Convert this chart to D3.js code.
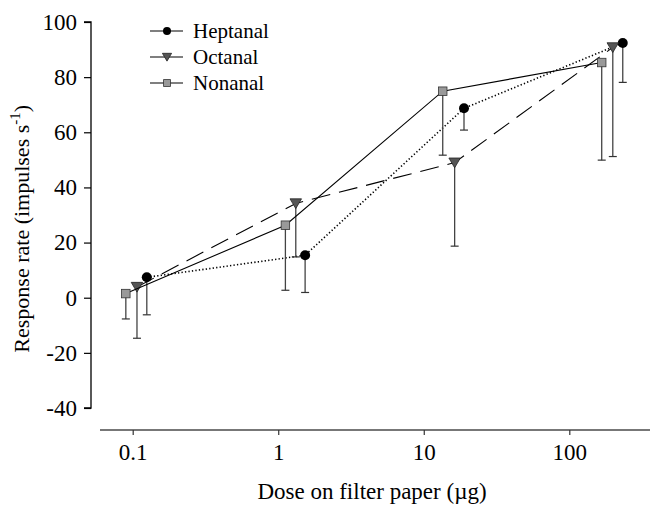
<!DOCTYPE html>
<html lang="en">
<head>
<meta charset="UTF-8">
<title>Response rate vs dose</title>
<script src="https://d3js.org/d3.v7.min.js"></script>
<style>
  body { margin: 0; background: #fff; }
</style>
</head>
<body>
<div id="chart"></div>
<script>
// tick labels
const xTicks = [0.1, 1, 10, 100];
const xTickLabels = ["0.1", "1", "10", "100"];
const yTicks = [-40, -20, 0, 20, 40, 60, 80, 100];

// plotted doses (points are slightly offset from the nominal doses in the figure)
const heptanalDose = [0.125, 1.53, 18.9, 233];
const octanalDose  = [0.107, 1.32, 16.3, 199];
const nonanalDose  = [0.0897, 1.12, 13.5, 167];

// mean response (impulses/s)
const heptanalMean = [7.4, 15.4, 68.7, 92.4];
const octanalMean  = [3.9, 34.2, 49.0, 90.8];
const nonanalMean  = [1.5, 26.3, 74.9, 85.3];

// lower end of error bar
const heptanalLow = [-6.2, 1.9, 60.8, 78.1];
const octanalLow  = [-14.7, 14.8, 18.7, 51.2];
const nonanalLow  = [-7.7, 2.7, 51.7, 49.9];

const series = [
  { name: "Heptanal", dose: heptanalDose, mean: heptanalMean, low: heptanalLow, dash: "1.3,2.2", width: 1.6, marker: "circle" },
  { name: "Octanal",  dose: octanalDose,  mean: octanalMean,  low: octanalLow,  dash: "19,9",    width: 1.1, marker: "triangle" },
  { name: "Nonanal",  dose: nonanalDose,  mean: nonanalMean,  low: nonanalLow,  dash: null,      width: 1.1, marker: "square" }
];

const width = 650, height = 506;
const serif = "'Liberation Serif', 'Times New Roman', serif";

const x = d3.scaleLog().domain([0.1, 100]).range([132.7, 569.3]);
const y = d3.scaleLinear().domain([-40, 100]).range([408, 22]);

const svg = d3.select("#chart").append("svg")
  .attr("width", width).attr("height", height)
  .style("font-family", serif);

// y axis
const yAxis = svg.append("g")
  .attr("transform", "translate(91,0)")
  .call(d3.axisLeft(y).tickValues(yTicks).tickSize(7).tickPadding(7).tickFormat(d => String(d)));
yAxis.select(".domain").attr("stroke", "#000").attr("stroke-width", 1.3).attr("d", `M-7,${y(100)}H0V${y(-40)}H-7`);
yAxis.selectAll(".tick line").attr("stroke", "#000").attr("stroke-width", 1.2);
yAxis.selectAll(".tick text").style("font-family", serif).style("font-size", "23px");

// x axis
const xAxis = svg.append("g")
  .attr("transform", "translate(0,430)")
  .call(d3.axisBottom(x).tickValues(xTicks).tickSize(5).tickPadding(9).tickFormat((d, i) => xTickLabels[i]));
xAxis.select(".domain").attr("stroke", "#777").attr("stroke-width", 2).attr("d", "M100,0H650");
xAxis.selectAll(".tick line").attr("stroke", "#333").attr("stroke-width", 1.2);
xAxis.selectAll(".tick text").style("font-family", serif).style("font-size", "23px");

// axis titles
svg.append("text")
  .attr("transform", `translate(29,${y(25)}) rotate(-90)`)
  .attr("text-anchor", "middle")
  .style("font-size", "22px")
  .html('Response rate (impulses s<tspan dy="-9" font-size="15">-1</tspan><tspan dy="9">)</tspan>');

svg.append("text")
  .attr("x", 372).attr("y", 499)
  .attr("text-anchor", "middle")
  .style("font-size", "23px")
  .text("Dose on filter paper (\u00b5g)");

const line = d3.line().x(d => x(d.d)).y(d => y(d.m));

function drawMarker(g, type, r) {
  if (type === "circle") {
    g.append("circle").attr("r", r).attr("fill", "#000");
  } else if (type === "triangle") {
    const s = r * 1.15;
    g.append("path").attr("d", `M${-s},${-s * 0.8}L${s},${-s * 0.8}L0,${s * 0.9}Z`)
      .attr("fill", "#555").attr("stroke", "#222").attr("stroke-width", 0.8);
  } else {
    g.append("rect").attr("x", -r * 0.85).attr("y", -r * 0.85).attr("width", r * 1.7).attr("height", r * 1.7)
      .attr("fill", "#999").attr("stroke", "#333").attr("stroke-width", 0.8);
  }
}

series.forEach(s => {
  const pts = s.dose.map((d, i) => ({ d: d, m: s.mean[i], lo: s.low[i] }));
  const g = svg.append("g");

  // error bars (lower half)
  g.selectAll("line.err").data(pts).enter().append("line")
    .attr("x1", d => x(d.d)).attr("x2", d => x(d.d))
    .attr("y1", d => y(d.m)).attr("y2", d => y(d.lo))
    .attr("stroke", "#444").attr("stroke-width", 1.3);
  g.selectAll("line.cap").data(pts).enter().append("line")
    .attr("x1", d => x(d.d) - 4).attr("x2", d => x(d.d) + 4)
    .attr("y1", d => y(d.lo)).attr("y2", d => y(d.lo))
    .attr("stroke", "#333").attr("stroke-width", 1.2);

  g.append("path").datum(pts)
    .attr("d", line)
    .attr("fill", "none")
    .attr("stroke", "#000")
    .attr("stroke-width", s.width)
    .attr("stroke-dasharray", s.dash);

  pts.forEach(p => {
    const m = g.append("g").attr("transform", `translate(${x(p.d)},${y(p.m)})`);
    drawMarker(m, s.marker, 5);
  });
});

// legend
const legend = svg.append("g").attr("transform", "translate(150,31)");
series.forEach((s, i) => {
  const row = legend.append("g").attr("transform", `translate(0,${i * 26})`);
  row.append("line").attr("x1", 0).attr("x2", 33).attr("y1", 0).attr("y2", 0)
    .attr("stroke", "#000").attr("stroke-width", 1.2);
  const m = row.append("g").attr("transform", "translate(17,0)");
  drawMarker(m, s.marker, 4);
  row.append("text").attr("x", 43).attr("y", 7).style("font-size", "21px").text(s.name);
});
</script>
</body>
</html>
